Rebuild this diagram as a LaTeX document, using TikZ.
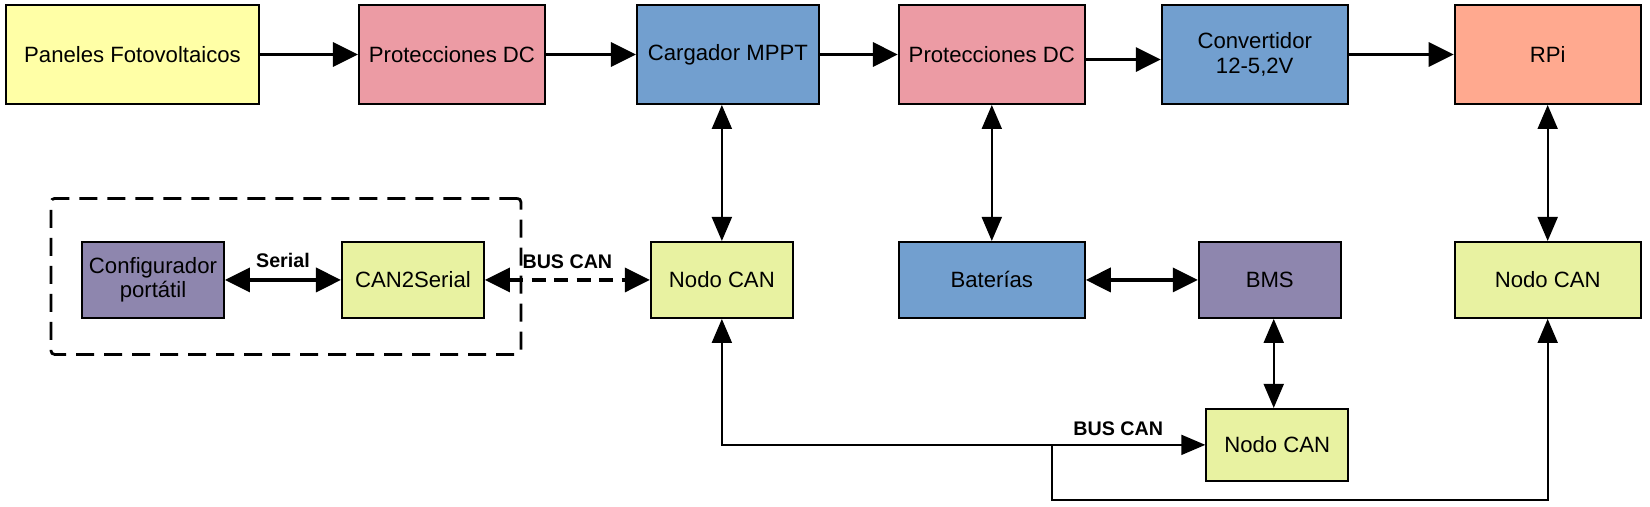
\documentclass[tikz,border=0pt]{standalone}
\usepackage{fontspec}
\setmainfont{Liberation Sans}
\usetikzlibrary{arrows.meta,positioning,fit}

\definecolor{panelyellow}{HTML}{FFFFA6}
\definecolor{protpink}{HTML}{EC9BA4}
\definecolor{powerblue}{HTML}{729FCF}
\definecolor{rpisalmon}{HTML}{FFA98F}
\definecolor{ctrlpurple}{HTML}{8E86AE}
\definecolor{nodelime}{HTML}{E8F2A1}

\tikzset{
  bigtip/.tip={Triangle[length=0.5cm, width=0.48cm]},
  smalltip/.tip={Triangle[length=0.48cm, width=0.4cm]}
}

\begin{document}
\begin{tikzpicture}[
    font=\fontsize{12.6}{14}\selectfont,
    box/.style={draw, line width=1.1pt, align=center, minimum height=1.98cm, minimum width=3.72cm, inner sep=2pt},
    smallbox/.style={box, minimum height=1.52cm, minimum width=2.84cm},
    arrow/.style={-bigtip, line width=2pt},
    dblarrow/.style={bigtip-bigtip, line width=2pt},
    link/.style={smalltip-smalltip, line width=1.1pt},
    feed/.style={-smalltip, line width=1.1pt},
    groupbox/.style={draw, line width=1.6pt, dash pattern=on 0.36cm off 0.2cm, rounded corners=2pt, inner xsep=0.66cm, inner ysep=0.78cm},
    buslabel/.style={font=\bfseries\fontsize{11.2}{13}\selectfont, inner sep=1pt}
  ]
    \useasboundingbox (0,0) rectangle (33,-10.12);

    % fila de potencia
    \node[box, fill=panelyellow, minimum width=5.06cm] (pan) at (2.65,-1.09) {Paneles Fotovoltaicos};
    \node[box, fill=protpink, right=1.96cm of pan] (pd1) {Protecciones DC};
    \node[box, fill=powerblue, minimum width=3.64cm, right=1.8cm of pd1] (mppt) {Cargador MPPT};
    \node[box, fill=protpink, right=1.56cm of mppt] (pd2) {Protecciones DC};
    \node[box, fill=powerblue, right=1.5cm of pd2] (conv) {Convertidor\\12-5,2V};
    \node[box, fill=rpisalmon, right=2.1cm of conv] (rpi) {RPi};

    % fila de control
    \node[smallbox, fill=nodelime, below=2.72cm of mppt, xshift=-0.12cm] (can1) {Nodo CAN};
    \node[smallbox, fill=nodelime, left=3.3cm of can1] (c2s) {CAN2Serial};
    \node[smallbox, fill=ctrlpurple, left=2.32cm of c2s] (conf) {Configurador\\portátil};
    \node[box, fill=powerblue, minimum height=1.52cm, below=2.72cm of pd2] (bat) {Baterías};
    \node[smallbox, fill=ctrlpurple, right=2.24cm of bat] (bms) {BMS};
    \node[box, fill=nodelime, minimum height=1.52cm, below=2.72cm of rpi] (can3) {Nodo CAN};
    \node[smallbox, fill=nodelime, minimum height=1.44cm, below=1.78cm of bms, xshift=0.15cm] (can2) {Nodo CAN};

    \node[groupbox, fit=(conf) (c2s), xshift=0.06cm, yshift=0.07cm] (tool) {};

    \draw[arrow] (pan) -- (pd1);
    \draw[arrow] (pd1) -- (mppt);
    \draw[arrow] (mppt) -- (pd2);
    \draw[arrow] ([yshift=-0.1cm]pd2.east) -- ([yshift=-0.1cm]conv.west);
    \draw[arrow] (conv) -- (rpi);

    \draw[link] (can1 |- mppt.south) -- (can1);
    \draw[link] (pd2) -- (bat);
    \draw[link] (rpi) -- (can3);
    \draw[link] ([xshift=0.08cm]bms.south) -- ([xshift=0.08cm]bms.south |- can2.north);
    \draw[dblarrow] (bat) -- (bms);

    \draw[dblarrow] (conf) -- (c2s) node[buslabel, midway, above=5pt] {Serial};
    \draw[dblarrow, dash pattern=on 0.28cm off 0.17cm] (c2s) -- (can1) node[buslabel, midway, above=4.5pt] {BUS CAN};

    \draw[link] (can1.south) |- (can2.west) node[buslabel, pos=0.91, above=3.5pt] {BUS CAN};
    \path (can1.south |- can2.west) ++(6.6,0) coordinate (tap);
    \draw[feed] (tap) -- ++(0,-1.1) -| (can3.south);
  \end{tikzpicture}
\end{document}
